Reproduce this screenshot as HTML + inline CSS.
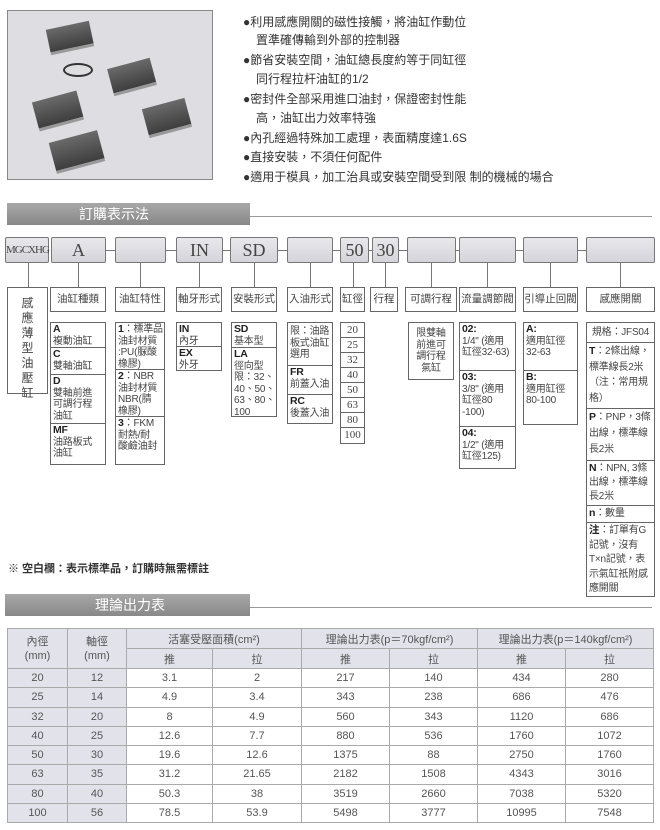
<!DOCTYPE html>
<html><head><meta charset="utf-8"><style>
*{margin:0;padding:0;box-sizing:border-box}
body{width:660px;height:830px;background:#fff;position:relative;overflow:hidden;font-family:"Liberation Sans","Noto Sans CJK TC",sans-serif;color:#333}
.a{position:absolute}
.b{position:absolute;border:1px solid #666;background:#fff;font-size:11px;line-height:13px;color:#444}
.c{position:absolute;top:237px;height:26px;border:1px solid #777;border-radius:2px;background:linear-gradient(#e8e8ec,#d4d4da);font-family:"Liberation Serif","Noto Serif CJK SC",serif;font-size:18px;color:#444;text-align:center;line-height:24px}
.lb{position:absolute;border:1px solid #666;background:#fff;font-size:10.5px;color:#444;text-align:center;line-height:23px;top:287px;height:25px;white-space:nowrap;overflow:hidden}
.v{position:absolute;width:1px;background:#777;top:263px;height:24px}
.it{position:absolute;border:1px solid #666;background:#fff;font-size:10px;line-height:11.5px;color:#444;padding:1px 2px;overflow:hidden;letter-spacing:-0.2px}
.it b{color:#222;font-size:10.5px;line-height:11px}
.bl{position:absolute;left:243px;font-size:12px;color:#333;white-space:nowrap}
.bar{position:absolute;background:linear-gradient(#a8a8a8,#888);color:#fff;font-size:14px;line-height:22px;height:22px}
.hl{position:absolute;height:1px;background:#999}
table{position:absolute;left:7px;top:628px;width:646px;border-collapse:collapse;font-size:11px;color:#555;table-layout:fixed}
td{border:1px solid #aaa;text-align:center;height:19.25px;padding:0}
.g{background:#e2e2ea}
.cy{position:absolute;background:linear-gradient(#6a6a6a,#3e3e3e);border-bottom:3px solid #999}
</style></head><body>

<div class="a" style="left:7px;top:10px;width:206px;height:170px;background:#dedee2;border:1px solid #888">
 <div class="cy" style="left:40px;top:14px;width:44px;height:26px;transform:rotate(-12deg)"></div>
 <div class="a" style="left:55px;top:52px;width:30px;height:14px;border:2px solid #333;border-radius:50%"></div>
 <div class="cy" style="left:102px;top:52px;width:44px;height:28px;transform:rotate(-15deg)"></div>
 <div class="cy" style="left:27px;top:85px;width:46px;height:30px;transform:rotate(-15deg)"></div>
 <div class="cy" style="left:137px;top:92px;width:44px;height:30px;transform:rotate(-15deg)"></div>
 <div class="cy" style="left:44px;top:125px;width:50px;height:32px;transform:rotate(-15deg)"></div>
</div>

<div class="bl" style="top:13px">●利用感應開關的磁性接觸，將油缸作動位</div>
<div class="bl" style="top:31px;left:256px">置準確傳輸到外部的控制器</div>
<div class="bl" style="top:51px">●節省安裝空間，油缸總長度約等于同缸徑</div>
<div class="bl" style="top:70px;left:256px">同行程拉杆油缸的1/2</div>
<div class="bl" style="top:90px">●密封件全部采用進口油封，保證密封性能</div>
<div class="bl" style="top:109px;left:256px">高，油缸出力效率特強</div>
<div class="bl" style="top:129px">●內孔經過特殊加工處理，表面精度達1.6S</div>
<div class="bl" style="top:148px">●直接安裝，不須任何配件</div>
<div class="bl" style="top:168px">●適用于模具，加工治具或安裝空間受到限 制的機械的場合</div>

<div class="bar" style="left:7px;top:203px;width:243px;padding-left:72px">訂購表示法</div>
<div class="hl" style="left:250px;top:216px;width:402px"></div>

<div class="hl" style="left:106px;top:250px;width:546px;background:#777"></div>
<div class="c" style="left:5px;width:44px;font-size:11px;letter-spacing:-1px">MGCXHG</div>
<div class="c" style="left:51px;width:55px">A</div>
<div class="c" style="left:115px;width:51px"></div>
<div class="c" style="left:176px;width:47px">IN</div>
<div class="c" style="left:230px;width:48px">SD</div>
<div class="c" style="left:287px;width:46px"></div>
<div class="c" style="left:340px;width:29px">50</div>
<div class="c" style="left:372px;width:27px">30</div>
<div class="c" style="left:407px;width:49px"></div>
<div class="c" style="left:459px;width:57px"></div>
<div class="c" style="left:523px;width:55px"></div>
<div class="c" style="left:586px;width:69px"></div>

<div class="v" style="left:28px"></div><div class="v" style="left:78px"></div><div class="v" style="left:140px"></div><div class="v" style="left:199px"></div><div class="v" style="left:254px"></div><div class="v" style="left:310px"></div><div class="v" style="left:353px"></div><div class="v" style="left:385px"></div><div class="v" style="left:431px"></div><div class="v" style="left:487px"></div><div class="v" style="left:550px"></div><div class="v" style="left:620px"></div>

<div class="b" style="left:7px;top:287px;width:41px;height:107px;text-align:center;padding-top:8px;font-size:12px;line-height:15px">感<br>應<br>薄<br>型<br>油<br>壓<br>缸</div>
<div class="lb" style="left:50px;width:56px">油缸種類</div>
<div class="lb" style="left:115px;width:50px">油缸特性</div>
<div class="lb" style="left:176px;width:46px">軸牙形式</div>
<div class="lb" style="left:231px;width:46px">安裝形式</div>
<div class="lb" style="left:287px;width:46px">入油形式</div>
<div class="lb" style="left:340px;width:25px">缸徑</div>
<div class="lb" style="left:370px;width:28px">行程</div>
<div class="lb" style="left:405px;width:52px">可調行程</div>
<div class="lb" style="left:459px;width:57px">流量調節閥</div>
<div class="lb" style="left:523px;width:55px">引導止回閥</div>
<div class="lb" style="left:586px;width:69px">感應開關</div>

<div class="it" style="left:50px;top:322px;width:56px;height:26px"><b>A</b><br>複動油缸</div>
<div class="it" style="left:50px;top:347px;width:56px;height:28px"><b>C</b><br>雙軸油缸</div>
<div class="it" style="left:50px;top:374px;width:56px;height:50px"><b>D</b><br>雙軸前進<br>可調行程<br>油缸</div>
<div class="it" style="left:50px;top:423px;width:56px;height:42px"><b>MF</b><br>油路板式<br>油缸</div>

<div class="it" style="left:115px;top:322px;width:50px;height:48px;white-space:nowrap"><b>1</b>：標準品<br>油封材質<br>:PU(脲酸<br>橡膠)</div>
<div class="it" style="left:115px;top:369px;width:50px;height:48px;white-space:nowrap"><b>2</b>：NBR<br>油封材質<br>NBR(腈<br>橡膠)</div>
<div class="it" style="left:115px;top:416px;width:50px;height:49px;white-space:nowrap"><b>3</b>：FKM<br>耐熱/耐<br>酸鹼油封</div>

<div class="it" style="left:176px;top:322px;width:46px;height:25px"><b>IN</b><br>內牙</div>
<div class="it" style="left:176px;top:346px;width:46px;height:25px"><b>EX</b><br>外牙</div>

<div class="it" style="left:231px;top:322px;width:46px;height:26px"><b>SD</b><br>基本型</div>
<div class="it" style="left:231px;top:347px;width:46px;height:70px;white-space:nowrap"><b>LA</b><br>徑向型<br>限：32、<br>40、50、<br>63、80、<br>100</div>

<div class="it" style="left:287px;top:322px;width:46px;height:44px;white-space:nowrap;padding-top:3px">限：油路<br>板式油缸<br>選用</div>
<div class="it" style="left:287px;top:365px;width:46px;height:30px;white-space:nowrap"><b>FR</b><br>前蓋入油</div>
<div class="it" style="left:287px;top:394px;width:46px;height:30px;white-space:nowrap"><b>RC</b><br>後蓋入油</div>

<div class="a" style="left:340px;top:322px;width:25px;font-family:'Liberation Serif',serif;font-size:11px;color:#444;text-align:center">
<div style="border:1px solid #666;height:16px;line-height:14px">20</div><div style="border:1px solid #666;border-top:0;height:15px;line-height:14px">25</div><div style="border:1px solid #666;border-top:0;height:15px;line-height:14px">32</div><div style="border:1px solid #666;border-top:0;height:15px;line-height:14px">40</div><div style="border:1px solid #666;border-top:0;height:15px;line-height:14px">50</div><div style="border:1px solid #666;border-top:0;height:15px;line-height:14px">63</div><div style="border:1px solid #666;border-top:0;height:15px;line-height:14px">80</div><div style="border:1px solid #666;border-top:0;height:16px;line-height:14px">100</div></div>

<div class="it" style="left:408px;top:322px;width:46px;height:58px;text-align:center;padding-top:5px;white-space:nowrap">限雙軸<br>前進可<br>調行程<br>氣缸</div>

<div class="it" style="left:459px;top:322px;width:57px;height:49px;white-space:nowrap"><b>02:</b><br>1/4" (適用<br>缸徑32-63)</div>
<div class="it" style="left:459px;top:370px;width:57px;height:57px;white-space:nowrap"><b>03:</b><br>3/8" (適用<br>缸徑80<br>-100)</div>
<div class="it" style="left:459px;top:426px;width:57px;height:43px;white-space:nowrap"><b>04:</b><br>1/2" (適用<br>缸徑125)</div>

<div class="it" style="left:523px;top:322px;width:55px;height:49px;white-space:nowrap"><b>A:</b><br>適用缸徑<br>32-63</div>
<div class="it" style="left:523px;top:370px;width:55px;height:55px;white-space:nowrap"><b>B:</b><br>適用缸徑<br>80-100</div>

<div class="it" style="left:586px;top:322px;width:69px;height:21px;text-align:center;line-height:17px;white-space:nowrap">規格：JFS04</div>
<div class="it" style="left:586px;top:342px;width:69px;height:67px;line-height:15.5px;white-space:nowrap"><b>T</b>：2條出線，<br>標準線長2米<br>（注：常用規<br>格）</div>
<div class="it" style="left:586px;top:408px;width:69px;height:53px;line-height:16px;white-space:nowrap"><b>P</b>：PNP，3條<br>出線，標準線<br>長2米</div>
<div class="it" style="left:586px;top:460px;width:69px;height:46px;line-height:14px;white-space:nowrap"><b>N</b>：NPN, 3條<br>出線，標準線<br>長2米</div>
<div class="it" style="left:586px;top:505px;width:69px;height:18px;line-height:14px"><b>n</b>：數量</div>
<div class="it" style="left:586px;top:522px;width:69px;height:75px;line-height:14.5px;white-space:nowrap"><b>注</b>：訂單有G<br>記號，沒有<br>T×n記號，表<br>示氣缸祇附感<br>應開關</div>

<div class="a" style="left:8px;top:560px;font-size:11px;font-weight:bold;color:#333">※ 空白欄：表示標準品，訂購時無需標註</div>

<div class="bar" style="left:5px;top:594px;width:245px;padding-left:90px">理論出力表</div>
<div class="hl" style="left:250px;top:607px;width:402px"></div>

<table>
<colgroup><col style="width:60px"><col style="width:59px"><col style="width:86px"><col style="width:89px"><col style="width:88px"><col style="width:88px"><col style="width:88px"><col style="width:88px"></colgroup>
<tr class="g"><td rowspan="2" class="g" style="line-height:14px">內徑<br>(mm)</td><td rowspan="2" class="g" style="line-height:14px">軸徑<br>(mm)</td><td colspan="2" style="height:20px">活塞受壓面積(cm²)</td><td colspan="2">理論出力表(p＝70kgf/cm²)</td><td colspan="2">理論出力表(p＝140kgf/cm²)</td></tr>
<tr class="g"><td style="height:20px">推</td><td>拉</td><td>推</td><td>拉</td><td>推</td><td>拉</td></tr>
<tr><td class="g">20</td><td class="g">12</td><td>3.1</td><td>2</td><td>217</td><td>140</td><td>434</td><td>280</td></tr>
<tr><td class="g">25</td><td class="g">14</td><td>4.9</td><td>3.4</td><td>343</td><td>238</td><td>686</td><td>476</td></tr>
<tr><td class="g">32</td><td class="g">20</td><td>8</td><td>4.9</td><td>560</td><td>343</td><td>1120</td><td>686</td></tr>
<tr><td class="g">40</td><td class="g">25</td><td>12.6</td><td>7.7</td><td>880</td><td>536</td><td>1760</td><td>1072</td></tr>
<tr><td class="g">50</td><td class="g">30</td><td>19.6</td><td>12.6</td><td>1375</td><td>88</td><td>2750</td><td>1760</td></tr>
<tr><td class="g">63</td><td class="g">35</td><td>31.2</td><td>21.65</td><td>2182</td><td>1508</td><td>4343</td><td>3016</td></tr>
<tr><td class="g">80</td><td class="g">40</td><td>50.3</td><td>38</td><td>3519</td><td>2660</td><td>7038</td><td>5320</td></tr>
<tr><td class="g">100</td><td class="g">56</td><td>78.5</td><td>53.9</td><td>5498</td><td>3777</td><td>10995</td><td>7548</td></tr>
</table>
</body></html>
